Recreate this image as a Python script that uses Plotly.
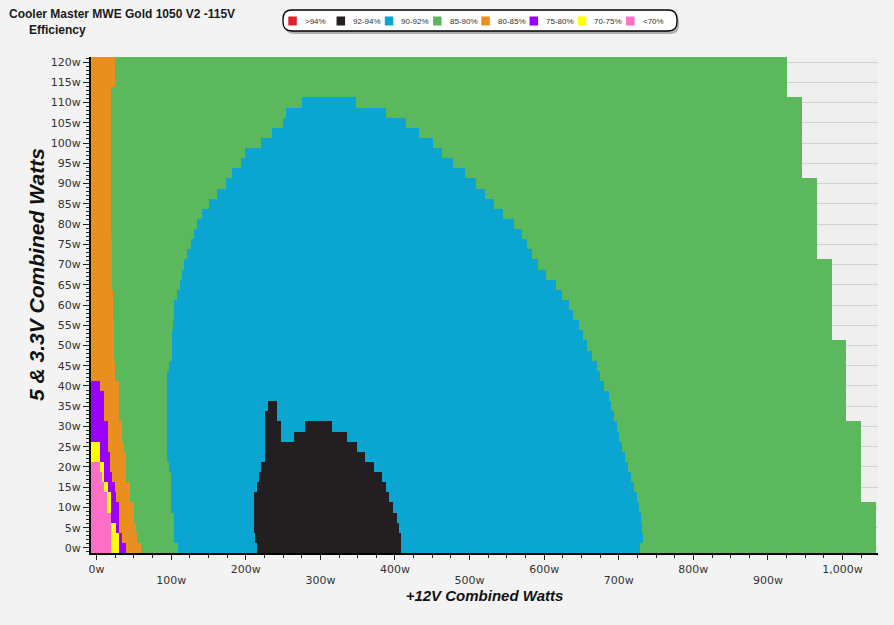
import numpy as np
import plotly.graph_objects as go

# ---------------- data ----------------
# rows: 5V & 3.3V combined load (W)
load_minor = [0, 2.5, 5, 7.5, 10, 12.5, 15, 17.5, 20, 22.5, 25, 27.5, 30, 32.5, 35, 37.5,
              40, 42.5, 45, 47.5, 50, 52.5, 55, 57.5, 60, 62.5, 65, 67.5, 70, 72.5, 75, 77.5,
              80, 82.5, 85, 87.5, 90, 92.5, 95, 97.5, 100, 102.5, 105, 107.5, 110, 112.5,
              115, 117.5, 120]

# +12V load (W) where each efficiency band ends on every row
green_max = [1045, 1045, 1045, 1045, 1045,
             1025, 1025, 1025, 1025, 1025, 1025, 1025, 1025,
             1005, 1005, 1005, 1005, 1005, 1005, 1005, 1005,
             985, 985, 985, 985, 985, 985, 985, 985,
             965, 965, 965, 965, 965, 965, 965, 965,
             945, 945, 945, 945, 945, 945, 945, 945,
             925, 925, 925, 925]

orange_right = [60, 55, 53, 50, 50, 45, 45, 40, 40, 40, 37, 35, 35, 30, 30, 30, 30, 25, 25,
                24, 24, 24, 24,
                22, 22, 22, 21, 21, 21, 21, 21,
                20, 20, 20, 20, 20, 20, 20, 20, 20, 20, 20, 20, 20, 20, 20,
                25, 25, 25]

purple_right = [40, 35, 30, 30, 30, 26, 25, 20.5, 19, 19, 15.5, 15.5, 15.5, 10, 10, 10, 5]
yellow_right = [30, 30, 26, 20, 20, 20, 15.5, 11, 10, 5, 5]
pink_right = [20, 20, 20, 20, 14.5, 14.5, 10, 8, 5]

blue_left = [110, 104, 104, 104, 100, 100, 100, 100, 97, 95, 95, 95, 95, 95, 95, 95, 95, 95,
             97, 101, 101, 101, 103, 104, 104, 108, 112, 115, 118, 122, 127, 131, 135, 142,
             151, 162, 174, 182, 194, 200, 221, 236, 251, 255, 276]
blue_right = [729, 733, 732, 730, 728, 725, 721, 717, 713, 709, 705, 701, 698, 694, 690,
              687, 681, 675, 671, 665, 658, 653, 647, 639, 634, 624, 616, 603, 593, 585,
              577, 571, 560, 545, 534, 522, 509, 494, 478, 464, 451, 433, 416, 389, 349]

black_left = [216, 213, 211, 211, 211, 211, 216, 218, 221, 226, 226, 226, 226, 226, 230]
black_right = [409, 409, 406, 403, 398, 393, 388, 383, 373, 360, 350, 336, 316, 243, 243]
# blue gap between the 92-94% peak and the 92-94% dome
notch_load = [27.5, 30]
notch_left = [248, 248]
notch_right = [265, 280]

bands = [">94%", "92-94%", "90-92%", "85-90%", "80-85%", "75-80%", "70-75%", "<70%"]
band_colors = ["#e2212b", "#231f20", "#0ba5d1", "#5cb85c", "#e88f1f", "#9900ff",
               "#ffff00", "#ff6ec7"]

x_ticks = [0, 100, 200, 300, 400, 500, 600, 700, 800, 900, 1000]
x_tick_text = ["0w", "100w", "200w", "300w", "400w", "500w", "600w", "700w", "800w",
               "900w", "1,000w"]
y_ticks = [0, 5, 10, 15, 20, 25, 30, 35, 40, 45, 50, 55, 60, 65, 70, 75, 80, 85, 90, 95,
           100, 105, 110, 115, 120]
y_tick_text = ["0w", "5w", "10w", "15w", "20w", "25w", "30w", "35w", "40w", "45w", "50w",
               "55w", "60w", "65w", "70w", "75w", "80w", "85w", "90w", "95w", "100w",
               "105w", "110w", "115w", "120w"]

# ---------------- build the efficiency grid ----------------
x_cells = np.arange(-7.0, 1047.0, 1.0)
z = np.full((len(load_minor), len(x_cells)), np.nan)
for i, yv in enumerate(load_minor):
    r = z[i]
    r[x_cells <= green_max[i]] = 3
    if i < len(blue_left):
        r[(x_cells >= blue_left[i]) & (x_cells < blue_right[i])] = 2
    if i < len(black_left):
        r[(x_cells >= black_left[i]) & (x_cells < black_right[i])] = 1
    for ny, a, b in zip(notch_load, notch_left, notch_right):
        if ny == yv:
            r[(x_cells >= a) & (x_cells < b)] = 2
    r[x_cells < orange_right[i]] = 4
    if i < len(purple_right):
        r[x_cells < purple_right[i]] = 5
    if i < len(yellow_right):
        r[x_cells < yellow_right[i]] = 6
    if i < len(pink_right):
        r[x_cells < pink_right[i]] = 7

n = len(bands)
colorscale = []
for k, c in enumerate(band_colors):
    colorscale.append([k / n, c])
    colorscale.append([(k + 1) / n, c])

fig = go.Figure()
fig.add_trace(go.Heatmap(x=x_cells, y=load_minor, z=z, zmin=-0.5, zmax=n - 0.5,
                         colorscale=colorscale, showscale=False, hoverongaps=False,
                         customdata=np.array(bands, dtype=object)[np.nan_to_num(z, nan=0).astype(int)],
                         hovertemplate="+12V: %{x}W<br>5V&3.3V: %{y}W<br>%{customdata}<extra></extra>"))
# empty trace so the second (staggered label) x axis is drawn
fig.add_trace(go.Scatter(x=[None], y=[None], xaxis="x2", yaxis="y", showlegend=False,
                         hoverinfo="skip"))

# ---------------- layout ----------------
W, H = 894, 625
L, R, T, B = 91, 878, 57, 553


def px(xp):
    return (xp - L) / (R - L)


def py(yp):
    return (B - yp) / (B - T)


def rounded(x0, y0, x1, y1, rr):
    return (f"M {px(x0 + rr)},{py(y0)} L {px(x1 - rr)},{py(y0)} "
            f"Q {px(x1)},{py(y0)} {px(x1)},{py(y0 + rr)} L {px(x1)},{py(y1 - rr)} "
            f"Q {px(x1)},{py(y1)} {px(x1 - rr)},{py(y1)} L {px(x0 + rr)},{py(y1)} "
            f"Q {px(x0)},{py(y1)} {px(x0)},{py(y1 - rr)} L {px(x0)},{py(y0 + rr)} "
            f"Q {px(x0)},{py(y0)} {px(x0 + rr)},{py(y0)} Z")


shapes = [
    dict(type="path", xref="paper", yref="paper", path=rounded(285, 13, 679, 34, 9),
         fillcolor="rgba(0,0,0,0.28)", line=dict(width=0), layer="above"),
    dict(type="path", xref="paper", yref="paper", path=rounded(283, 10, 677, 31, 9),
         fillcolor="white", line=dict(color="black", width=1.3), layer="above"),
]

annotations = []
for k, (lab, col) in enumerate(zip(bands, band_colors)):
    x0 = 288.3 + 48.25 * k
    shapes.append(dict(type="rect", xref="paper", yref="paper", x0=px(x0), x1=px(x0 + 8.5),
                       y0=py(25.5), y1=py(16.5), fillcolor=col, line=dict(width=0),
                       layer="above"))
    annotations.append(dict(xref="paper", yref="paper", x=px(x0 + 14.5), y=py(21),
                            xanchor="left", yanchor="middle", text=lab, showarrow=False,
                            font=dict(family="Arial, Liberation Sans", size=8, color="#333")))

# y-axis title (sits a little above the plot's centre in the reference)
annotations.append(dict(xref="paper", yref="paper", x=px(36), y=py(275), xanchor="center",
                        yanchor="middle", textangle=-90, showarrow=False,
                        text="5 & 3.3V Combined Watts",
                        font=dict(family="Arial, Liberation Sans", size=21, color="#111",
                                  weight="bold", style="italic")))

tick_font = dict(family="DejaVu Sans, Verdana", size=11, color="#333")
even_text = [t if i % 2 == 0 else "" for i, t in enumerate(x_tick_text)]
odd_vals = [v for i, v in enumerate(x_ticks) if i % 2 == 1]
odd_text = [t for i, t in enumerate(x_tick_text) if i % 2 == 1]

fig.update_layout(
    width=W, height=H,
    margin=dict(l=L, r=W - R, t=T, b=H - B, autoexpand=False),
    paper_bgcolor="#f3f3f3", plot_bgcolor="#efefef",
    title=dict(text="Cooler Master MWE Gold 1050 V2 -115V<br>&nbsp;&nbsp;&nbsp;&nbsp;&nbsp;&nbsp;Efficiency",
               x=9 / W, xanchor="left", xref="container", y=1 - 18 / H, yanchor="top",
               yref="container",
               font=dict(family="Arial, Liberation Sans", size=12, color="#1a1a1a",
                         weight="bold")),
    shapes=shapes, annotations=annotations, showlegend=False,
    xaxis=dict(range=[-7.5, 1047.5], tickmode="array", tickvals=x_ticks, ticktext=even_text,
               ticks="outside", ticklen=5, tickcolor="#222", showline=True, linecolor="black",
               linewidth=2, showgrid=False, zeroline=False, tickfont=tick_font,
               minor=dict(tickmode="linear", tick0=0, dtick=25, ticks="outside", ticklen=3,
                          tickcolor="#222", showgrid=False),
               title=dict(text="+12V Combined Watts", standoff=15,
                          font=dict(family="Arial, Liberation Sans", size=15, color="#111",
                                    weight="bold", style="italic"))),
    xaxis2=dict(range=[-7.5, 1047.5], overlaying="x", anchor="y", side="bottom",
                tickmode="array", tickvals=odd_vals, ticktext=odd_text,
                ticks="outside", ticklen=5, tickcolor="rgba(0,0,0,0)", ticklabelstandoff=12,
                showline=False, showgrid=False, zeroline=False, tickfont=tick_font),
    yaxis=dict(range=[-1.25, 121.25], tickmode="array", tickvals=y_ticks, ticktext=y_tick_text,
               ticks="outside", ticklen=6, tickcolor="#222", showline=True, linecolor="black",
               linewidth=2, showgrid=True, gridcolor="#d2d2d2", gridwidth=1, zeroline=False,
               tickfont=tick_font,
               minor=dict(tickmode="linear", tick0=0, dtick=1, ticks="outside", ticklen=3,
                          tickcolor="#222", showgrid=False)),
)

fig.write_html("out.html", config={"displayModeBar": False},
               post_script="document.body.style.margin='0';")
